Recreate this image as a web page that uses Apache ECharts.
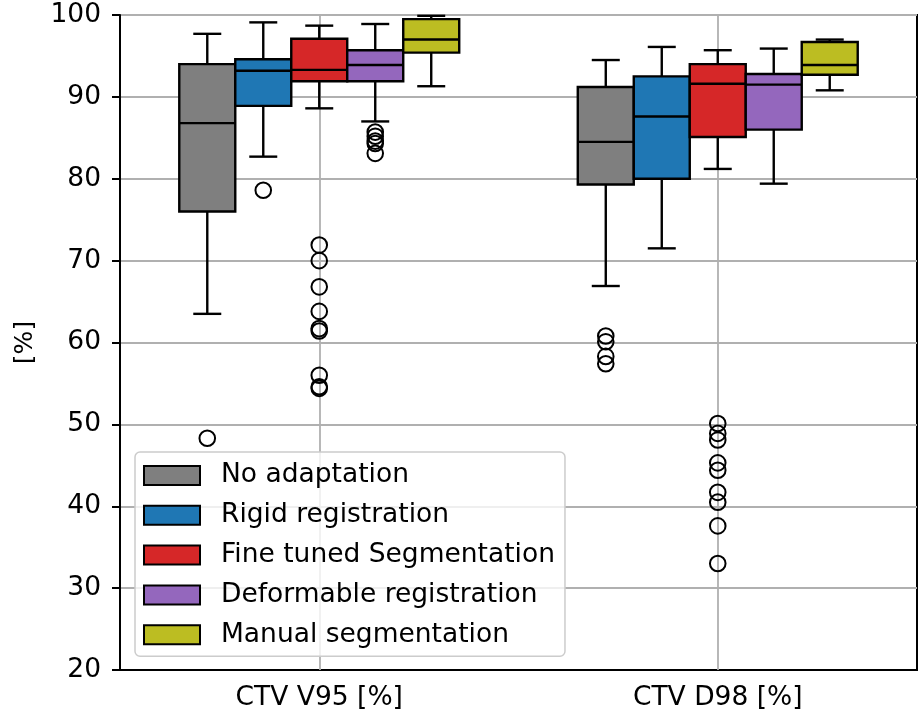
<!DOCTYPE html>
<html>
<head>
<meta charset="utf-8">
<title>CTV coverage per adaptation method</title>
<script src="https://cdn.jsdelivr.net/npm/echarts@6/dist/echarts.min.js"></script>
<style>
  html, body { margin: 0; padding: 0; background: #fff; }
  #chart { width: 924px; height: 719px; }
</style>
</head>
<body>
<div id="chart"></div>
<script>
// Metric groups on the x axis
const categories = ['CTV V95 [%]', 'CTV D98 [%]'];

// Methods, drawn left to right inside each group
const methods = [
  'No adaptation',
  'Rigid registration',
  'Fine tuned Segmentation',
  'Deformable registration',
  'Manual segmentation'
];
const methodColors = ['#7f7f7f', '#1f77b4', '#d62728', '#9467bd', '#bcbd22'];

// Box statistics per group: [lower whisker, Q1, median, Q3, upper whisker]
const noAdaptation           = [[63.5, 76.0, 86.8, 94.0, 97.7], [66.9, 79.3, 84.5, 91.2, 94.5]];
const rigidRegistration      = [[82.7, 88.9, 93.2, 94.6, 99.1], [71.5, 80.0, 87.6, 92.5, 96.1]];
const fineTunedSegmentation  = [[88.6, 91.9, 93.3, 97.1, 98.7], [81.2, 85.1, 91.6, 94.0, 95.7]];
const deformableRegistration = [[87.0, 91.9, 93.9, 95.7, 98.9], [79.4, 86.0, 91.5, 92.8, 95.9]];
const manualSegmentation     = [[91.3, 95.4, 97.0, 99.5, 99.9], [90.8, 92.7, 93.9, 96.7, 97.0]];

// Outliers per group
const noAdaptationOutliers           = [[48.3], [60.8, 60.1, 58.3, 57.4]];
const rigidRegistrationOutliers      = [[78.6], []];
const fineTunedSegmentationOutliers  = [
  [71.9, 70.0, 66.8, 63.8, 61.7, 61.4, 56.0, 54.6, 54.4],
  [50.1, 48.9, 48.1, 45.3, 44.4, 41.7, 40.5, 37.6, 33.0]
];
const deformableRegistrationOutliers = [[85.7, 85.2, 84.6, 84.3, 83.1], []];
const manualSegmentationOutliers     = [[], []];

// Y axis ticks
const yMin = 20, yMax = 100, yStep = 10;

const boxStats = [noAdaptation, rigidRegistration, fineTunedSegmentation, deformableRegistration, manualSegmentation];
const outlierSets = [noAdaptationOutliers, rigidRegistrationOutliers, fineTunedSegmentationOutliers,
                     deformableRegistrationOutliers, manualSegmentationOutliers];

const FONT = "'DejaVu Sans', sans-serif";
const FONT_SIZE = 26.5;
const BOX_FRACTION = 0.1405;   // box width as share of the category band
const EDGE = 2.4;

function centerX(api, cat, k) {
  const band = api.size([1, 0])[0];
  const w = band * BOX_FRACTION;
  const x = api.coord([cat, yMin])[0] + (k - (methods.length - 1) / 2) * w;
  return { x, w };
}

function boxRenderer(k) {
  return function (params, api) {
    const cat = api.value(0);
    const { x, w } = centerX(api, cat, k);
    const yLo = api.coord([cat, api.value(1)])[1];
    const yQ1 = api.coord([cat, api.value(2)])[1];
    const yMed = api.coord([cat, api.value(3)])[1];
    const yQ3 = api.coord([cat, api.value(4)])[1];
    const yHi = api.coord([cat, api.value(5)])[1];
    const cap = w * 0.5;
    const line = { stroke: '#000', lineWidth: EDGE, lineCap: 'butt' };
    return {
      type: 'group',
      children: [
        { type: 'line', shape: { x1: x, y1: yLo, x2: x, y2: yQ1 }, style: line },
        { type: 'line', shape: { x1: x, y1: yQ3, x2: x, y2: yHi }, style: line },
        { type: 'line', shape: { x1: x - cap / 2, y1: yLo, x2: x + cap / 2, y2: yLo }, style: line },
        { type: 'line', shape: { x1: x - cap / 2, y1: yHi, x2: x + cap / 2, y2: yHi }, style: line },
        { type: 'rect', shape: { x: x - w / 2, y: yQ3, width: w, height: yQ1 - yQ3 },
          style: { fill: methodColors[k], stroke: '#000', lineWidth: EDGE } },
        { type: 'line', shape: { x1: x - w / 2, y1: yMed, x2: x + w / 2, y2: yMed }, style: line }
      ]
    };
  };
}

function outlierRenderer(k) {
  return function (params, api) {
    const cat = api.value(0);
    const { x } = centerX(api, cat, k);
    const y = api.coord([cat, api.value(1)])[1];
    return {
      type: 'circle',
      shape: { cx: x, cy: y, r: 7.8 },
      style: { fill: 'none', stroke: '#000', lineWidth: 2 }
    };
  };
}

const series = [];
methods.forEach(function (name, k) {
  const data = boxStats[k].map(function (s, c) { return [c].concat(s); });
  const s = {
    name: name,
    type: 'custom',
    z: 2,
    renderItem: boxRenderer(k),
    itemStyle: { color: methodColors[k] },
    encode: { x: 0, y: [1, 2, 3, 4, 5] },
    data: data,
    silent: true
  };
  if (k === 0) {
    // vertical grid lines through the group centres
    s.markLine = {
      z: 1,
      silent: true,
      symbol: ['none', 'none'],
      label: { show: false },
      lineStyle: { type: 'solid', color: '#b0b0b0', width: 1.8 },
      data: categories.map(function (c) { return { xAxis: c }; })
    };
  }
  series.push(s);
});
methods.forEach(function (name, k) {
  const data = [];
  outlierSets[k].forEach(function (vals, c) {
    vals.forEach(function (v) { data.push([c, v]); });
  });
  series.push({
    name: name + ' outliers',
    type: 'custom',
    z: 3,
    renderItem: outlierRenderer(k),
    encode: { x: 0, y: 1 },
    data: data,
    silent: true
  });
});

const chart = echarts.init(document.getElementById('chart'), null, { renderer: 'canvas' });
chart.setOption({
  animation: false,
  backgroundColor: '#fff',
  grid: {
    left: 120, right: 7, top: 15, bottom: 49,
    containLabel: false,
    outerBoundsMode: 'none',
    show: true, borderColor: '#000', borderWidth: 2, backgroundColor: 'transparent'
  },
  legend: {
    orient: 'vertical',
    left: 135, top: 452,
    z: 10,
    padding: [10, 10, 8, 8],
    itemWidth: 56, itemHeight: 19, itemGap: 12.8,
    icon: 'rect',
    backgroundColor: 'rgba(255,255,255,0.8)',
    borderColor: '#cccccc', borderWidth: 1.5, borderRadius: 5,
    selectedMode: false,
    textStyle: { fontFamily: FONT, fontSize: FONT_SIZE, color: '#000', padding: [0, 0, 0, 16] },
    data: methods.map(function (m, k) {
      return { name: m, itemStyle: { color: methodColors[k], borderColor: '#000', borderWidth: 2 } };
    })
  },
  xAxis: {
    type: 'category',
    data: categories,
    boundaryGap: true,
    axisLine: { lineStyle: { color: '#000', width: 2 } },
    axisTick: { alignWithLabel: true, length: 8, lineStyle: { color: '#000', width: 2 } },
    axisLabel: { fontFamily: FONT, fontSize: FONT_SIZE, color: '#000', margin: 15 },
    splitLine: { show: false }
  },
  yAxis: {
    type: 'value',
    min: yMin, max: yMax, interval: yStep,
    name: '[%]',
    nameLocation: 'middle',
    nameRotate: 90,
    nameGap: 82,
    nameTextStyle: { fontFamily: FONT, fontSize: 25, color: '#000' },
    axisLine: { show: true, lineStyle: { color: '#000', width: 2 } },
    axisTick: { show: true, length: 8, lineStyle: { color: '#000', width: 2 } },
    axisLabel: { fontFamily: FONT, fontSize: FONT_SIZE, color: '#000', margin: 19 },
    splitLine: { show: true, lineStyle: { color: '#b0b0b0', width: 1.8 } }
  },
  series: series
});
</script>
</body>
</html>
